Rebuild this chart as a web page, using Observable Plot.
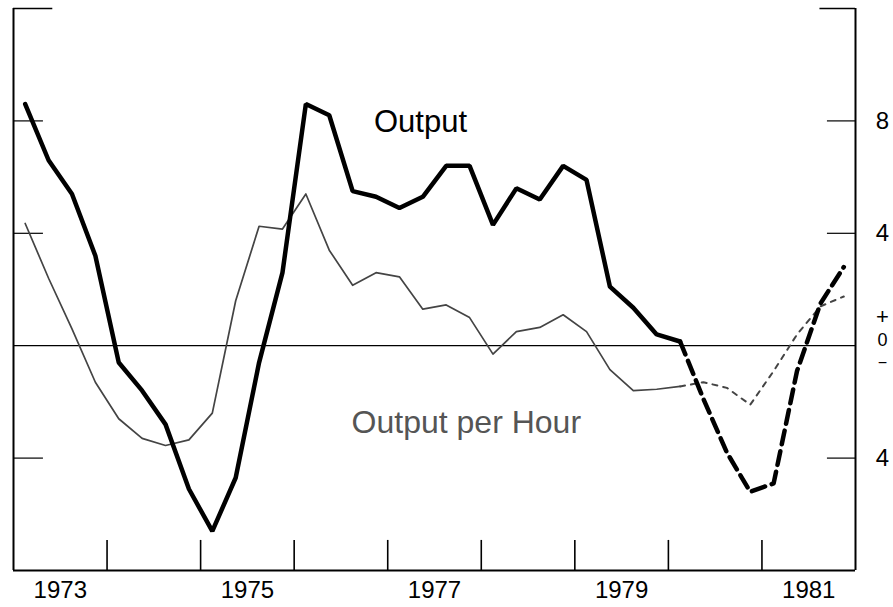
<!DOCTYPE html>
<html><head><meta charset="utf-8">
<script src="https://cdn.jsdelivr.net/npm/d3@7"></script>
<script src="https://cdn.jsdelivr.net/npm/@observablehq/plot@0.6"></script>
<style>body{margin:0;background:#fff}</style>
</head><body><div id="chart"></div>
<script>
const quarters = [
  "1973Q1","1973Q2","1973Q3","1973Q4","1974Q1","1974Q2","1974Q3","1974Q4",
  "1975Q1","1975Q2","1975Q3","1975Q4","1976Q1","1976Q2","1976Q3","1976Q4",
  "1977Q1","1977Q2","1977Q3","1977Q4","1978Q1","1978Q2","1978Q3","1978Q4",
  "1979Q1","1979Q2","1979Q3","1979Q4","1980Q1","1980Q2","1980Q3","1980Q4",
  "1981Q1","1981Q2","1981Q3","1981Q4"
];
const output = [
  8.6, 6.6, 5.4, 3.2, -0.6, -1.6, -2.8, -5.1,
  -6.6, -4.7, -0.6, 2.6, 8.6, 8.2, 5.5, 5.3,
  4.9, 5.3, 6.4, 6.4, 4.3, 5.6, 5.2, 6.4,
  5.9, 2.1, 1.35, 0.4, 0.15, -1.9, -3.8, -5.2,
  -4.9, -0.9, 1.5, 2.8
];
const outputPerHour = [
  4.35, 2.4, 0.6, -1.3, -2.6, -3.3, -3.55, -3.35,
  -2.4, 1.6, 4.25, 4.15, 5.4, 3.4, 2.15, 2.6,
  2.45, 1.3, 1.45, 1.0, -0.3, 0.5, 0.65, 1.1,
  0.5, -0.85, -1.6, -1.55, -1.45, -1.3, -1.5, -2.1,
  -0.9, 0.4, 1.4, 1.75
];
const projectionStart = "1980Q1";
const yearTicks = [1974, 1975, 1976, 1977, 1978, 1979, 1980, 1981];
const yearLabels = [1973, 1975, 1977, 1979, 1981];
const sideTicks = [8, 4, -4];
const topTick = [12];
const rightLabelValues = [8, 4, -4];
const rightLabelTexts = ["8", "4", "4"];

const rows = quarters.map((q, i) => ({
  t: +q.slice(0, 4) + (+q.slice(5) - 0.5) / 4,
  output: output[i],
  oph: outputPerHour[i],
  i
}));
const split = quarters.indexOf(projectionStart);
const actual = rows.filter(d => d.i <= split);
const projected = rows.filter(d => d.i >= split);

const signStyle = {x: 1982, y: 0, dx: 27, fill: "#000"};

const chart = Plot.plot({
  width: 893,
  height: 607,
  marginLeft: 13,
  marginRight: 38,
  marginTop: 8,
  marginBottom: 37,
  x: {domain: [1973, 1982], axis: null},
  y: {domain: [-8, 12], axis: null},
  style: {fontFamily: "'Liberation Sans', Arial, Helvetica, sans-serif", background: "#fff"},
  marks: [
    // frame
    Plot.ruleX([1973, 1982], {y1: -8, y2: 12, stroke: "#000", strokeWidth: 2}),
    Plot.ruleY([-8], {x1: 1973, x2: 1982, stroke: "#000", strokeWidth: 2}),
    Plot.ruleY([0], {x1: 1973, x2: 1982, stroke: "#000", strokeWidth: 1.2}),
    // x ticks (inward)
    Plot.ruleX(yearTicks, {y1: -8, y2: -6.93, stroke: "#000", strokeWidth: 1.6}),
    // y ticks left and right
    Plot.ruleY(topTick, {x1: 1973, x2: 1973.42, stroke: "#000", strokeWidth: 1.6}),
    Plot.ruleY(sideTicks, {x1: 1973, x2: 1973.32, stroke: "#000", strokeWidth: 1.2}),
    Plot.ruleY(topTick, {x1: 1981.62, x2: 1982, stroke: "#000", strokeWidth: 1.6}),
    Plot.ruleY(sideTicks, {x1: 1981.7, x2: 1982, stroke: "#000", strokeWidth: 1.2}),
    // output per hour
    Plot.line(actual, {x: "t", y: "oph", stroke: "#444", strokeWidth: 1.7}),
    Plot.line(projected, {x: "t", y: "oph", stroke: "#444", strokeWidth: 2, strokeDasharray: "5,6"}),
    // output
    Plot.line(actual, {x: "t", y: "output", stroke: "#000", strokeWidth: 4.5, strokeLinejoin: "miter"}),
    Plot.line(projected, {x: "t", y: "output", stroke: "#000", strokeWidth: 4.5, strokeDasharray: "14,7"}),
    // labels
    Plot.text(yearLabels, {x: d => d + 0.5, y: -8, dy: 20, text: d => String(d), fontSize: 24, fill: "#000"}),
    Plot.text(rightLabelValues, {x: 1982, dx: 27, y: d => d, text: (d, i) => rightLabelTexts[i], fontSize: 24, fill: "#000"}),
    Plot.text(["+"], {...signStyle, dy: -29, text: d => d, fontSize: 22}),
    Plot.text(["0"], {...signStyle, dy: -5, text: d => d, fontSize: 18}),
    Plot.text(["\u2212"], {...signStyle, dy: 17, text: d => d, fontSize: 16}),
    Plot.text(["Output"], {x: 1977.35, y: 7.95, text: d => d, fontSize: 31, fill: "#000"}),
    Plot.text(["Output per Hour"], {x: 1977.84, y: -2.75, text: d => d, fontSize: 32, fill: "#555", fontWeight: 300})
  ]
});
document.getElementById("chart").appendChild(chart);
</script>
</body></html>
